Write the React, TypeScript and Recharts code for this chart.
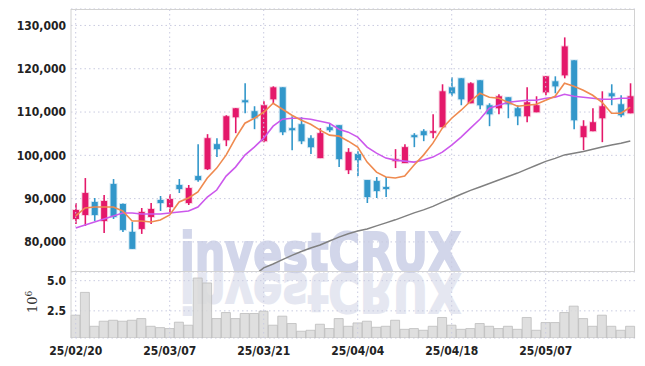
import React from 'react';
import { ComposedChart, BarChart, Bar, Line, XAxis, YAxis, CartesianGrid, ReferenceLine } from 'recharts';

const dates = [
  '25/02/20', '25/02/21', '25/02/24', '25/02/25', '25/02/26', '25/02/27', '25/02/28', '25/03/04', '25/03/05', '25/03/06',
  '25/03/07', '25/03/10', '25/03/11', '25/03/12', '25/03/13', '25/03/14', '25/03/17', '25/03/18', '25/03/19', '25/03/20',
  '25/03/21', '25/03/24', '25/03/25', '25/03/26', '25/03/27', '25/03/28', '25/03/31', '25/04/01', '25/04/02', '25/04/03',
  '25/04/04', '25/04/07', '25/04/08', '25/04/09', '25/04/10', '25/04/11', '25/04/14', '25/04/15', '25/04/16', '25/04/17',
  '25/04/18', '25/04/21', '25/04/22', '25/04/23', '25/04/24', '25/04/25', '25/04/28', '25/04/29', '25/04/30', '25/05/02',
  '25/05/07', '25/05/08', '25/05/09', '25/05/12', '25/05/13', '25/05/14', '25/05/15', '25/05/16', '25/05/19', '25/05/20',
];

const opens = [
  85300, 86220, 89220, 84840, 93370, 88760, 82310, 83000, 85760, 89680,
  88070, 93140, 88990, 95210, 96820, 102580, 103500, 108800, 112720, 110190,
  103270, 112950, 115710, 106270, 107190, 103960, 99360, 106500, 106960, 96590,
  100280, 94290, 94060, 92680, 98670, 98210, 104660, 105580, 105350, 106500,
  115710, 117790, 112030, 117330, 111570, 110880, 113410, 110880, 109030, 109950,
  114560, 117100, 118480, 121940, 104200, 105580, 108570, 114330, 111800, 109720,
];
const closes = [
  87370, 91290, 86220, 89450, 85760, 82770, 78390, 86920, 87600, 88990,
  89910, 92220, 92440, 94290, 103960, 101430, 109030, 110870, 112260, 108570,
  111570, 115710, 105350, 105810, 103270, 101890, 105120, 105810, 99130, 100740,
  98900, 90370, 91760, 92220, 99130, 101890, 104200, 104660, 105580, 114790,
  114330, 112950, 116640, 111570, 109490, 113640, 111800, 109030, 112260, 111570,
  118250, 115940, 125160, 108110, 106730, 107650, 111340, 113640, 109260, 113640,
];
const highs = [
  88990, 94750, 90140, 90830, 94520, 88900, 84600, 87840, 88990, 90600,
  91060, 94520, 93140, 102580, 104890, 103960, 109260, 110900, 116640, 111340,
  112490, 115940, 115710, 109030, 108800, 104660, 106270, 107420, 106960, 101660,
  100970, 94290, 94980, 94980, 101430, 102580, 105120, 106040, 109490, 116410,
  118020, 117790, 116870, 117330, 112030, 114100, 113410, 111570, 115710, 113640,
  118250, 118250, 127240, 121940, 108110, 110880, 114790, 116410, 113870, 116640,
];
const lows = [
  84150, 83690, 84840, 82070, 85300, 82300, 78390, 81850, 84150, 87150,
  86920, 91300, 88530, 93900, 96600, 99590, 102120, 105120, 109720, 106040,
  103000, 112030, 104660, 101200, 102580, 100280, 99360, 105350, 97290, 95670,
  95210, 88990, 90140, 90370, 97050, 98210, 101890, 103270, 103960, 106500,
  113640, 111570, 112030, 110650, 106730, 109490, 108570, 106960, 107650, 109950,
  113870, 114330, 117790, 106040, 101200, 105580, 103040, 111570, 108800, 109720,
];

const ma5 = [
  86000, 87840, 88070, 88070, 88070, 87150, 84840, 84840, 84600, 85070,
  86220, 89220, 90140, 91530, 94750, 97050, 100050, 103960, 107420, 108570,
  109950, 112030, 110650, 109260, 108110, 107190, 105810, 104660, 104430, 103270,
  101890, 98440, 96130, 94980, 94750, 95210, 97750, 100050, 102810, 106270,
  108570, 110420, 112490, 114330, 113410, 113180, 112260, 111340, 111570, 111800,
  112720, 113640, 116640, 115940, 115020, 113870, 112260, 109720, 109720, 111110,
];
const ma20 = [
  83230, 83920, 84610, 85300, 86000, 86690, 86690, 86460, 86460, 86460,
  86690, 86920, 87150, 88070, 90370, 91980, 95210, 97280, 100050, 101890,
  103960, 106730, 108340, 108570, 108570, 108340, 107880, 107420, 106040, 105350,
  104200, 101890, 100510, 99360, 98900, 98670, 98440, 98900, 99590, 100740,
  102350, 104200, 106270, 108340, 110880, 111570, 112260, 112490, 112720, 112720,
  113180, 113410, 114100, 113640, 113410, 113180, 112950, 112950, 113180, 113180,
];
const ma60 = [
  null, null, null, null, null, null, null, null, null, null,
  null, null, null, null, null, null, null, null, null, 72300,
  74000, 74900, 75900, 76900, 77800, 78600, 79300, 80200, 81100, 81900,
  82500, 83000, 83700, 84400, 85100, 85900, 86700, 87400, 88200, 89200,
  90100, 91000, 91900, 92700, 93500, 94300, 95100, 95900, 96800, 97700,
  98600, 99300, 100100, 100500, 100900, 101400, 101900, 102400, 102800, 103300,
];

// volume in millions of shares
const volumes = [
  2.14, 4.03, 1.22, 1.64, 1.72, 1.64, 1.72, 1.86, 1.22, 1.11,
  1.03, 1.56, 1.31, 5.22, 4.81, 1.86, 2.36, 1.86, 2.28, 2.28,
  2.47, 1.31, 2.06, 1.45, 0.81, 0.89, 1.39, 1.03, 1.86, 1.22,
  1.5, 1.64, 1.14, 1.22, 1.72, 0.97, 1.03, 0.89, 1.22, 1.95,
  1.31, 0.97, 1.03, 1.45, 1.22, 1.03, 1.22, 0.97, 1.95, 0.89,
  1.53, 1.53, 2.36, 2.89, 1.86, 1.22, 2.14, 1.22, 0.89, 1.22,
];

const priceTicks = [80000, 90000, 100000, 110000, 120000, 130000];
const volumeTicks = [2.5, 5.0];
const labelDates = dates.filter((_, i) => i % 10 === 0);

const data = dates.map((d, i) => ({
  date: d,
  open: opens[i],
  close: closes[i],
  high: highs[i],
  low: lows[i],
  ma5: ma5[i],
  ma20: ma20[i],
  ma60: ma60[i],
  volume: volumes[i],
}));

const UP = '#e4186a';
const DOWN = '#3297ca';
const GRID = '#c9cbe0';
const BORDER = '#d2d2d2';
const tickStyle = { fill: '#222', fontSize: 12, fontWeight: 700, fontFamily: 'DejaVu Sans Condensed' };

const Candle = (props: any) => {
  const { x, y, width, height, payload } = props;
  if (x == null || y == null || !payload) return null;
  const { open, close, high, low } = payload;
  const up = close >= open;
  const color = up ? UP : DOWN;
  const halo = up ? '#f6c3d7' : '#c3e0f0';
  const yTop = Math.min(y, y + height);
  const h = Math.abs(height);
  const span = high - low || 1;
  const toY = (v: number) => yTop + ((high - v) / span) * h;
  const cx = x + width / 2;
  const top = toY(Math.max(open, close));
  const bot = toY(Math.min(open, close));
  const bw = 6;
  const bh = Math.max(bot - top, 1.6);
  return (
    <g>
      <rect x={cx - bw / 2 - 1} y={top - 1} width={bw + 2} height={bh + 2} fill={halo} opacity={0.7} />
      <line x1={cx} x2={cx} y1={yTop} y2={yTop + h} stroke={color} strokeWidth={1.6} />
      <rect x={cx - bw / 2} y={top} width={bw} height={bh} fill={color} />
    </g>
  );
};

const vLines = (keyPrefix: string) =>
  labelDates.map((d) => (
    <ReferenceLine key={keyPrefix + d} x={d} stroke={GRID} strokeDasharray="1.5 3" ifOverflow="extendDomain" />
  ));

export default function App() {
  return (
    <div style={{ position: 'absolute', left: 0, top: 0, width: 645, height: 366, background: '#fff', overflow: 'hidden' }}>
      <svg width={645} height={366} style={{ position: 'absolute', left: 0, top: 0 }}>
        <text
          x={180}
          y={271}
          fontSize={54}
          fontWeight={900}
          fontFamily="DejaVu Sans, sans-serif"
          fill="#d2d6ea"
          stroke="#d2d6ea"
          strokeWidth={2}
          textLength={281}
          lengthAdjust="spacingAndGlyphs"
        >
          investCRUX
        </text>
        <g transform="translate(0,545) scale(1,-1)" opacity={0.5}>
          <text
            x={180}
            y={271}
            fontSize={54}
            fontWeight={900}
            fontFamily="DejaVu Sans, sans-serif"
            fill="#cdd1e4"
            stroke="#cdd1e4"
            strokeWidth={2}
            textLength={281}
            lengthAdjust="spacingAndGlyphs"
          >
            investCRUX
          </text>
        </g>
        <text transform="translate(37,313) rotate(-90)" fontSize={13} fontFamily="DejaVu Serif, serif" fill="#333">
          10
          <tspan dy={-5} fontSize={9}>6</tspan>
        </text>
      </svg>

      <div style={{ position: 'absolute', left: 0, top: 0 }}>
        <ComposedChart width={645} height={272} data={data} margin={{ top: 9, right: 10, bottom: 0, left: 0 }}>
          <CartesianGrid vertical={false} stroke={GRID} strokeDasharray="1.5 3" />
          <XAxis dataKey="date" hide />
          <YAxis
            domain={[73050, 133800]}
            allowDataOverflow
            ticks={priceTicks}
            width={71}
            tickSize={0}
            tickMargin={5}
            axisLine={{ stroke: BORDER }}
            tickLine={false}
            tick={tickStyle}
            tickFormatter={(v: number) => v.toLocaleString('en-US')}
          />
          {vLines('p')}
          <Bar dataKey={(d: any) => [d.low, d.high]} shape={<Candle />} isAnimationActive={false} />
          <Line type="linear" dataKey="ma60" stroke="#808080" strokeWidth={1.5} dot={false} activeDot={false} isAnimationActive={false} connectNulls={false} />
          <Line type="linear" dataKey="ma20" stroke="#cc58ec" strokeWidth={1.6} dot={false} activeDot={false} isAnimationActive={false} />
          <Line type="linear" dataKey="ma5" stroke="#ef8a4f" strokeWidth={1.6} dot={false} activeDot={false} isAnimationActive={false} />
        </ComposedChart>
      </div>

      <div style={{ position: 'absolute', left: 0, top: 272 }}>
        <BarChart width={645} height={94} data={data} margin={{ top: 0, right: 10, bottom: 0, left: 0 }} barCategoryGap={0}>
          <CartesianGrid vertical={false} stroke={GRID} strokeDasharray="1.5 3" />
          <XAxis
            dataKey="date"
            interval={9}
            height={28}
            tickSize={0}
            tickMargin={8}
            axisLine={false}
            tickLine={false}
            tick={tickStyle}
          />
          <YAxis
            domain={[0.25, 5.72]}
            allowDataOverflow
            ticks={volumeTicks}
            width={71}
            tickSize={0}
            tickMargin={5}
            axisLine={{ stroke: BORDER }}
            tickLine={false}
            tick={tickStyle}
            tickFormatter={(v: number) => v.toFixed(1)}
          />
          {vLines('v')}
          <Bar dataKey="volume" fill="#d9d9d9" stroke="#bcbcbc" strokeWidth={0.8} fillOpacity={0.85} isAnimationActive={false} />
        </BarChart>
      </div>

      <div
        style={{
          position: 'absolute',
          left: 71,
          top: 9,
          width: 564,
          height: 263,
          borderTop: '1px solid ' + BORDER,
          borderRight: '1px solid ' + BORDER,
          borderBottom: '1px solid ' + BORDER,
          boxSizing: 'border-box',
          pointerEvents: 'none',
        }}
      />
    </div>
  );
}
